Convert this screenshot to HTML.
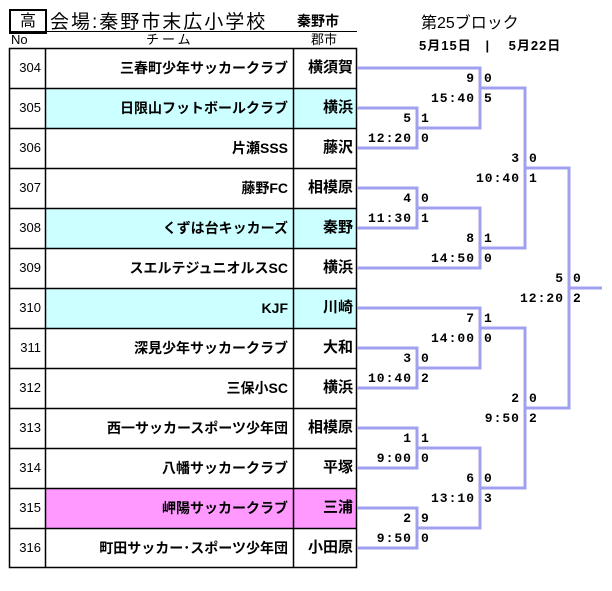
<!DOCTYPE html>
<html><head><meta charset="utf-8"><style>
body{margin:0;width:612px;height:591px;background:#fff;position:relative;overflow:hidden;font-family:"Liberation Sans","Noto Sans CJK JP",sans-serif;}
.a{position:absolute;white-space:nowrap;}
.row{position:absolute;left:9px;width:348px;height:40px;}
.no{position:absolute;left:0;width:36px;height:40px;line-height:40px;text-align:right;font-size:13px;box-sizing:border-box;padding-right:4px;}
.tm{position:absolute;left:36px;width:248px;height:40px;line-height:40px;text-align:right;font-size:14px;font-weight:bold;box-sizing:border-box;padding-right:5px;}
.ct{position:absolute;left:284px;width:64px;height:40px;line-height:40px;text-align:right;font-size:15px;font-weight:bold;box-sizing:border-box;padding-right:4px;}
.sl{position:absolute;height:20px;line-height:20px;font-family:"Liberation Mono",monospace;font-weight:bold;font-size:13px;letter-spacing:1px;text-align:right;width:60px;}
.sr{position:absolute;height:20px;line-height:20px;font-family:"Liberation Mono",monospace;font-weight:bold;font-size:13px;}
</style></head><body>
<div class="a" style="left:9px;top:9px;width:34px;height:21px;border:2px solid #000;text-align:center;font-size:16px;line-height:21px;">高</div>
<div class="a" style="left:50px;top:7px;font-size:19px;letter-spacing:2px;">会場:秦野市末広小学校</div>
<div class="a" style="left:297px;top:11px;font-size:14px;font-weight:bold;">秦野市</div>
<div class="a" style="left:9px;top:31px;width:348px;height:1px;background:#000;"></div>
<div class="a" style="left:421px;top:9px;font-size:16px;">第25ブロック</div>
<div class="a" style="left:419px;top:35px;font-size:13px;font-weight:bold;letter-spacing:1px;">5月15日 &nbsp;&nbsp;| &nbsp;&nbsp;&nbsp;5月22日</div>
<div class="a" style="left:11px;top:33px;font-size:13px;line-height:14px;">No</div>
<div class="a" style="left:146px;top:33px;font-size:13px;line-height:14px;letter-spacing:3px;">チーム</div>
<div class="a" style="left:311px;top:33px;font-size:13px;line-height:14px;">郡市</div>

<div class="row" style="top:48px"><div class="no">304</div><div class="tm">三春町少年サッカークラブ</div><div class="ct">横須賀</div></div>
<div class="row" style="top:88px"><div class="no">305</div><div class="tm" style="background:#ccffff">日限山フットボールクラブ</div><div class="ct" style="background:#ccffff">横浜</div></div>
<div class="row" style="top:128px"><div class="no">306</div><div class="tm">片瀬SSS</div><div class="ct">藤沢</div></div>
<div class="row" style="top:168px"><div class="no">307</div><div class="tm">藤野FC</div><div class="ct">相模原</div></div>
<div class="row" style="top:208px"><div class="no">308</div><div class="tm" style="background:#ccffff">くずは台キッカーズ</div><div class="ct" style="background:#ccffff">秦野</div></div>
<div class="row" style="top:248px"><div class="no">309</div><div class="tm">スエルテジュニオルスSC</div><div class="ct">横浜</div></div>
<div class="row" style="top:288px"><div class="no">310</div><div class="tm" style="background:#ccffff">KJF</div><div class="ct" style="background:#ccffff">川崎</div></div>
<div class="row" style="top:328px"><div class="no">311</div><div class="tm">深見少年サッカークラブ</div><div class="ct">大和</div></div>
<div class="row" style="top:368px"><div class="no">312</div><div class="tm">三保小SC</div><div class="ct">横浜</div></div>
<div class="row" style="top:408px"><div class="no">313</div><div class="tm">西一サッカースポーツ少年団</div><div class="ct">相模原</div></div>
<div class="row" style="top:448px"><div class="no">314</div><div class="tm">八幡サッカークラブ</div><div class="ct">平塚</div></div>
<div class="row" style="top:488px"><div class="no">315</div><div class="tm" style="background:#ff99ff">岬陽サッカークラブ</div><div class="ct" style="background:#ff99ff">三浦</div></div>
<div class="row" style="top:528px"><div class="no">316</div><div class="tm">町田サッカー･スポーツ少年団</div><div class="ct">小田原</div></div>

<svg class="a" style="left:0;top:0" width="612" height="591">
<g stroke="#000" stroke-width="1.5" fill="none">
<rect x="9.5" y="48.5" width="347" height="519"/>
<line x1="45.5" y1="48" x2="45.5" y2="568"/>
<line x1="293.5" y1="48" x2="293.5" y2="568"/>
<path d="M9 88.5H357M9 128.5H357M9 168.5H357M9 208.5H357M9 248.5H357M9 288.5H357M9 328.5H357M9 368.5H357M9 408.5H357M9 448.5H357M9 488.5H357M9 528.5H357"/>
</g>
<g stroke="#a0a0f0" stroke-width="3" fill="none">
<path d="M357 68H480V128H417"/>
<path d="M357 108H417V148H357"/>
<path d="M480 88H525V248H480"/>
<path d="M357 188H417V228H357"/>
<path d="M417 208H480V268H357"/>
<path d="M525 168H569V408H525"/>
<path d="M569 288H602"/>
<path d="M357 308H480V368H417"/>
<path d="M357 348H417V388H357"/>
<path d="M480 328H525V488H480"/>
<path d="M357 428H417V468H357"/>
<path d="M417 448H480V528H417"/>
<path d="M357 508H417V548H357"/>
</g>
</svg>

<div class="sl" style="left:352px;top:109px">5</div><div class="sr" style="left:421px;top:109px">1</div>
<div class="sl" style="left:352px;top:129px">12:20</div><div class="sr" style="left:421px;top:129px">0</div>
<div class="sl" style="left:415px;top:69px">9</div><div class="sr" style="left:484px;top:69px">0</div>
<div class="sl" style="left:415px;top:89px">15:40</div><div class="sr" style="left:484px;top:89px">5</div>
<div class="sl" style="left:352px;top:189px">4</div><div class="sr" style="left:421px;top:189px">0</div>
<div class="sl" style="left:352px;top:209px">11:30</div><div class="sr" style="left:421px;top:209px">1</div>
<div class="sl" style="left:415px;top:229px">8</div><div class="sr" style="left:484px;top:229px">1</div>
<div class="sl" style="left:415px;top:249px">14:50</div><div class="sr" style="left:484px;top:249px">0</div>
<div class="sl" style="left:460px;top:149px">3</div><div class="sr" style="left:529px;top:149px">0</div>
<div class="sl" style="left:460px;top:169px">10:40</div><div class="sr" style="left:529px;top:169px">1</div>
<div class="sl" style="left:504px;top:269px">5</div><div class="sr" style="left:573px;top:269px">0</div>
<div class="sl" style="left:504px;top:289px">12:20</div><div class="sr" style="left:573px;top:289px">2</div>
<div class="sl" style="left:415px;top:309px">7</div><div class="sr" style="left:484px;top:309px">1</div>
<div class="sl" style="left:415px;top:329px">14:00</div><div class="sr" style="left:484px;top:329px">0</div>
<div class="sl" style="left:352px;top:349px">3</div><div class="sr" style="left:421px;top:349px">0</div>
<div class="sl" style="left:352px;top:369px">10:40</div><div class="sr" style="left:421px;top:369px">2</div>
<div class="sl" style="left:460px;top:389px">2</div><div class="sr" style="left:529px;top:389px">0</div>
<div class="sl" style="left:460px;top:409px">9:50</div><div class="sr" style="left:529px;top:409px">2</div>
<div class="sl" style="left:352px;top:429px">1</div><div class="sr" style="left:421px;top:429px">1</div>
<div class="sl" style="left:352px;top:449px">9:00</div><div class="sr" style="left:421px;top:449px">0</div>
<div class="sl" style="left:415px;top:469px">6</div><div class="sr" style="left:484px;top:469px">0</div>
<div class="sl" style="left:415px;top:489px">13:10</div><div class="sr" style="left:484px;top:489px">3</div>
<div class="sl" style="left:352px;top:509px">2</div><div class="sr" style="left:421px;top:509px">9</div>
<div class="sl" style="left:352px;top:529px">9:50</div><div class="sr" style="left:421px;top:529px">0</div>
</body></html>
